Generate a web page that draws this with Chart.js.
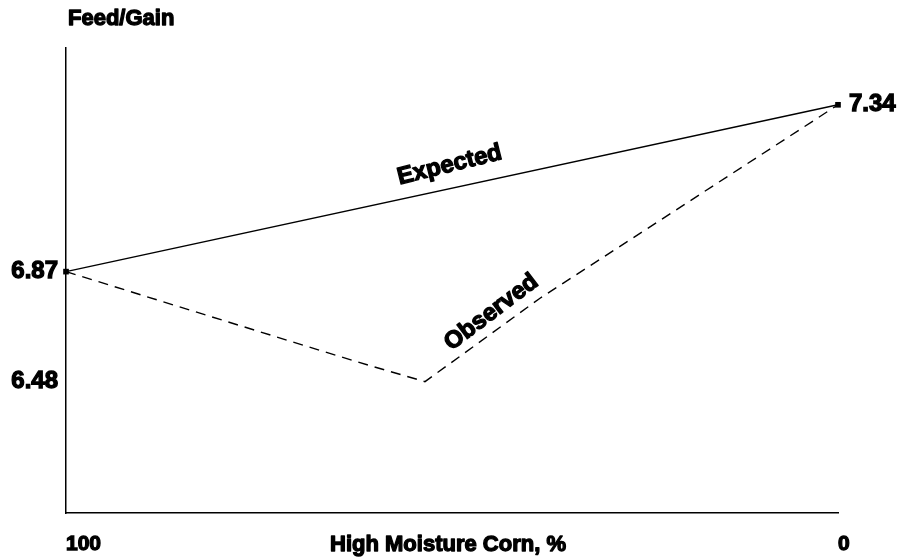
<!DOCTYPE html>
<html>
<head>
<meta charset="utf-8">
<script src="https://cdn.jsdelivr.net/npm/chart.js@4.4.1/dist/chart.umd.min.js"></script>
<style>
html,body{margin:0;padding:0;background:#fff;}
#wrap{width:903px;height:560px;}
</style>
</head>
<body>
<div id="wrap"><canvas id="fg" width="903" height="560"></canvas></div>
<script>
(function () {

// corn levels (%), read left to right: 100 -> 0
const expectedX = [100, 0];
const expectedY = [6.87, 7.34];

const observedX = [100, 67.1, 60.6, 53.5, 38.6, 0];
const observedY = [6.87, 6.648, 6.605, 6.56, 6.795, 7.34];

const xTicks = [100, 0];
const yTickValues = [6.56, 6.87];
const yTickLabels = ['6.48', '6.87'];
const rightTickValues = [7.34];
const rightTickLabels = ['7.34'];

const FONT = '"Liberation Sans", Arial, sans-serif';
const STROKE = 1.3;

function pts(xs, ys) {
  return xs.map((x, i) => ({x: x, y: ys[i]}));
}

function heavyText(ctx, txt, x, y) {
  ctx.strokeText(txt, x, y);
  ctx.fillText(txt, x, y);
}

/* ---- captions drawn on top ---- */
const captions = {
  id: 'captions',
  afterDatasetsDraw(chart) {
    const {ctx, chartArea, scales: {x, y}} = chart;
    ctx.save();
    ctx.fillStyle = '#000';
    ctx.strokeStyle = '#000';
    ctx.lineWidth = STROKE;
    ctx.lineJoin = 'round';
    ctx.textBaseline = 'middle';

    ctx.font = 'bold 22px ' + FONT;
    ctx.textAlign = 'left';
    heavyText(ctx, 'Feed/Gain', 68, 19);

    ctx.textAlign = 'center';
    ctx.font = 'bold 22px ' + FONT;
    heavyText(ctx, 'High Moisture Corn, %', (chartArea.left + chartArea.right) / 2 - 4, 545);

    ctx.font = 'bold 24px ' + FONT;
    ctx.save();
    ctx.translate(x.getPixelForValue(50.3), y.getPixelForValue(7.17));
    ctx.rotate(-14 * Math.PI / 180);
    heavyText(ctx, 'Expected', 0, 0);
    ctx.restore();

    ctx.save();
    ctx.translate(x.getPixelForValue(44.9), y.getPixelForValue(6.755));
    ctx.rotate(-37 * Math.PI / 180);
    heavyText(ctx, 'Observed', 0, 0);
    ctx.restore();

    ctx.restore();
  }
};

const tickFont = size => ({family: FONT, size: size, weight: 'bold'});

new Chart(document.getElementById('fg'), {
  type: 'scatter',
  data: {
    datasets: [
      {
        label: 'Expected',
        data: pts(expectedX, expectedY),
        showLine: true,
        borderColor: '#000',
        backgroundColor: '#000',
        borderWidth: 1.4,
        pointStyle: 'rect',
        pointRadius: 4,
        pointBorderWidth: 0,
        clip: false
      },
      {
        label: 'Observed',
        data: pts(observedX, observedY),
        showLine: true,
        borderColor: '#000',
        borderWidth: 1.4,
        borderDash: [10, 7],
        pointRadius: 0,
        clip: false
      }
    ]
  },
  options: {
    responsive: false,
    animation: false,
    layout: {padding: {top: 48, right: 0, bottom: 0, left: 0}},
    plugins: {
      legend: {display: false},
      tooltip: {enabled: false}
    },
    scales: {
      x: {
        type: 'linear',
        reverse: true,
        min: 0,
        max: 100,
        grid: {display: false},
        border: {display: true, color: '#000', width: 1.5},
        afterBuildTicks(s) { s.ticks = xTicks.map(v => ({value: v})); },
        afterFit(s) { s.height = 47; },
        ticks: {
          color: '#000',
          font: tickFont(21),
          textStrokeColor: '#000',
          textStrokeWidth: STROKE,
          padding: 11,
          align: 'start',
          maxRotation: 0,
          callback: v => String(v)
        }
      },
      y: {
        type: 'linear',
        position: 'left',
        min: 6.19,
        max: 7.50,
        grid: {display: false},
        border: {display: true, color: '#000', width: 1.5},
        afterBuildTicks(s) { s.ticks = yTickValues.map(v => ({value: v})); },
        afterFit(s) { s.width = 66; },
        ticks: {
          color: '#000',
          font: tickFont(24),
          textStrokeColor: '#000',
          textStrokeWidth: STROKE,
          padding: 0,
          callback: (v, i) => yTickLabels[i]
        }
      },
      y2: {
        type: 'linear',
        position: 'right',
        min: 6.19,
        max: 7.50,
        grid: {display: false},
        border: {display: false},
        afterBuildTicks(s) { s.ticks = rightTickValues.map(v => ({value: v})); },
        afterFit(s) { s.width = 65; },
        ticks: {
          color: '#000',
          font: tickFont(24),
          textStrokeColor: '#000',
          textStrokeWidth: STROKE,
          padding: 3,
          callback: (v, i) => rightTickLabels[i]
        }
      }
    }
  },
  plugins: [captions]
});

})();
</script>
</body>
</html>
